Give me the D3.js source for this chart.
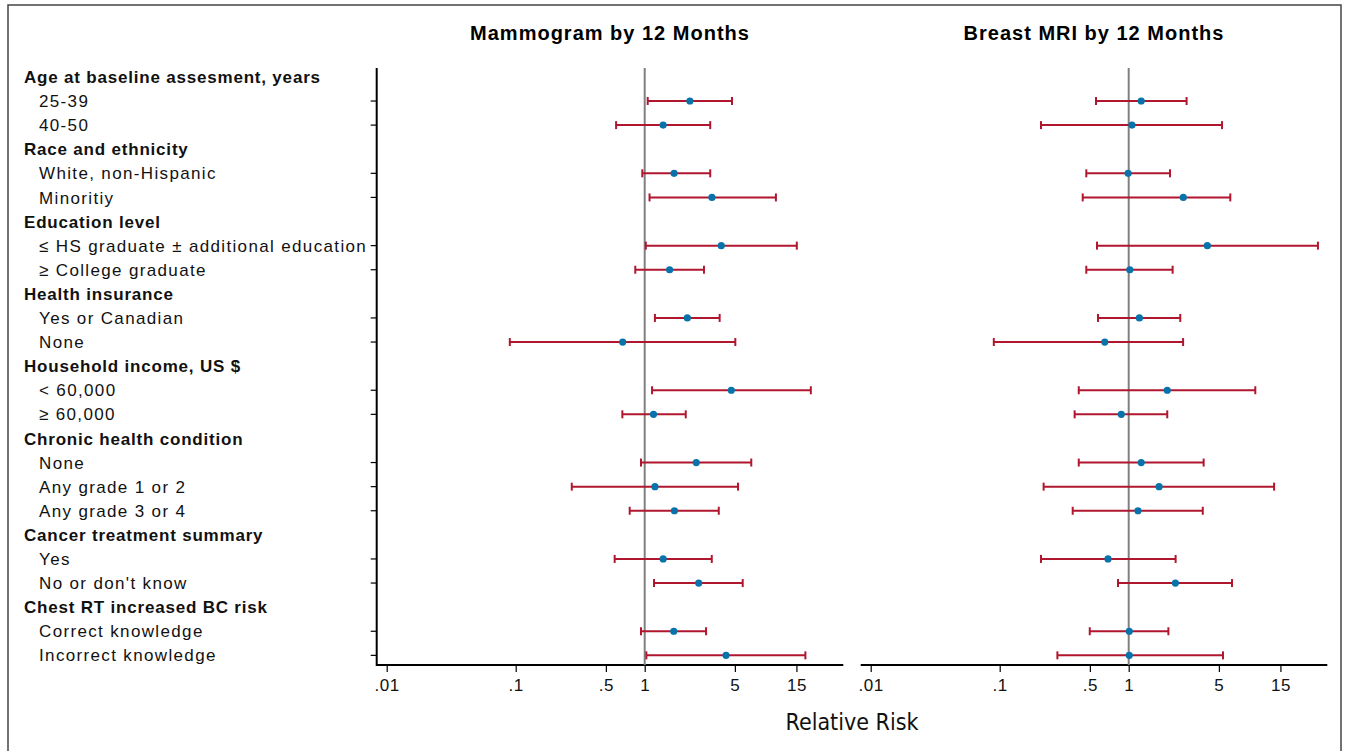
<!DOCTYPE html>
<html>
<head>
<meta charset="utf-8">
<title>Relative Risk forest plot</title>
<script src="https://cdnjs.cloudflare.com/ajax/libs/d3/7.8.5/d3.min.js"></script>
<style>
  body { margin: 0; background: #fff; }
  svg { display: block; font-family: "Liberation Sans", Arial, sans-serif; }
</style>
</head>
<body>
<div id="chart"></div>
<script>
// group headers and the items under each
const groupNames = [
    "Age at baseline assesment, years",
    "Race and ethnicity",
    "Education level",
    "Health insurance",
    "Household income, US $",
    "Chronic health condition",
    "Cancer treatment summary",
    "Chest RT increased BC risk"
];
const itemNames = [
    ["25-39", "40-50"],
    ["White, non-Hispanic", "Minoritiy"],
    ["\u2264 HS graduate \u00b1 additional education", "\u2265 College graduate"],
    ["Yes or Canadian", "None"],
    ["< 60,000", "\u2265 60,000"],
    ["None", "Any grade 1 or 2", "Any grade 3 or 4"],
    ["Yes", "No or don't know"],
    ["Correct knowledge", "Incorrect knowledge"]
];

// relative risk estimates with lower / upper CI, one per item (in order)
const mammoEst = [2.24, 1.39, 1.69, 3.32, 3.92, 1.56, 2.14, 0.675, 4.69, 1.17, 2.51, 1.20, 1.70, 1.39, 2.62, 1.68, 4.27];
const mammoLo  = [1.055, 0.60, 0.958, 1.09, 1.02, 0.845, 1.20, 0.090, 1.14, 0.671, 0.936, 0.272, 0.765, 0.585, 1.18, 0.936, 1.03];
const mammoHi  = [4.75, 3.22, 3.22, 10.4, 15.1, 2.88, 3.81, 5.04, 19.4, 2.08, 6.70, 5.29, 3.75, 3.31, 5.75, 2.99, 17.6];

const mriEst = [1.25, 1.06, 0.99, 2.65, 4.07, 1.02, 1.21, 0.652, 1.99, 0.876, 1.25, 1.72, 1.18, 0.691, 2.30, 1.01, 1.01];
const mriLo  = [0.558, 0.209, 0.469, 0.440, 0.568, 0.469, 0.578, 0.090, 0.410, 0.381, 0.410, 0.219, 0.368, 0.209, 0.826, 0.499, 0.28];
const mriHi  = [2.81, 5.29, 2.09, 6.13, 29.3, 2.19, 2.51, 2.64, 9.58, 1.99, 3.81, 13.4, 3.75, 2.31, 6.32, 2.03, 5.38];

const panelTitles = ["Mammogram by 12 Months", "Breast MRI by 12 Months"];
const tickValues = [0.01, 0.1, 0.5, 1, 5, 15];
const tickLabels = [".01", ".1", ".5", "1", "5", "15"];

// build the row list: header rows then item rows
const rows = [];
let itemIdx = 0;
groupNames.forEach((g, gi) => {
    rows.push({ label: g, header: true });
    itemNames[gi].forEach(name => {
        rows.push({ label: name, header: false, i: itemIdx++ });
    });
});

const width = 1349, height = 751;
const svg = d3.select("#chart").append("svg")
    .attr("width", width)
    .attr("height", height);

// outer frame
svg.append("rect")
    .attr("x", 8).attr("y", 5)
    .attr("width", 1333).attr("height", 760)
    .attr("fill", "none")
    .attr("stroke", "#444")
    .attr("stroke-width", 1.5);

const plotTop = 68, plotBottom = 665;
const panelWidth = 466.6;
const panelLeft = [376.7, 860.7];

const y = d3.scaleLinear()
    .domain([-0.37, rows.length - 0.6])
    .range([plotTop, plotBottom]);

const x = d3.scaleLog()
    .domain([0.008365, 34.63])
    .range([0, panelWidth]);

// row labels on the left
svg.append("g").selectAll("text")
    .data(rows)
    .enter()
    .append("text")
    .attr("x", d => d.header ? 24 : 39)
    .attr("y", (d, i) => y(i))
    .attr("dy", "0.36em")
    .style("font-size", "17px")
    .style("font-weight", d => d.header ? "bold" : "normal")
    .style("letter-spacing", d => d.header ? "0.8px" : "1.35px")
    .style("fill", "#111")
    .text(d => d.label);

const series = [
    { est: mammoEst, lo: mammoLo, hi: mammoHi },
    { est: mriEst, lo: mriLo, hi: mriHi }
];

const itemRows = rows.map((r, i) => ({ ...r, row: i })).filter(r => !r.header);

series.forEach((s, p) => {
    const g = svg.append("g")
        .attr("transform", `translate(${panelLeft[p]},0)`);

    // title
    g.append("text")
        .attr("x", panelWidth / 2)
        .attr("y", 33)
        .attr("dy", "0.36em")
        .attr("text-anchor", "middle")
        .style("font-size", "20px")
        .style("font-weight", "bold")
        .style("letter-spacing", "1px")
        .text(panelTitles[p]);

    // x axis
    const xAxis = g.append("g")
        .attr("transform", `translate(0,${plotBottom})`)
        .call(d3.axisBottom(x)
            .tickValues(tickValues)
            .tickFormat((d, i) => tickLabels[i])
            .tickSize(7)
            .tickPadding(7));
    xAxis.select(".domain")
        .attr("d", `M0,0H${panelWidth}`)
        .attr("stroke", "#000")
        .attr("stroke-width", 2);
    xAxis.selectAll(".tick line").attr("stroke", "#000").attr("stroke-width", 1.2);
    xAxis.selectAll(".tick text")
        .style("font-size", "17px")
        .style("letter-spacing", "0.6px")
        .style("font-family", "\"Liberation Sans\", Arial, sans-serif")
        .attr("fill", "#111");

    // y axis only on first panel
    if (p === 0) {
        g.append("line")
            .attr("x1", 0).attr("x2", 0)
            .attr("y1", plotTop).attr("y2", plotBottom + 1)
            .attr("stroke", "#000")
            .attr("stroke-width", 2);
        g.selectAll("line.ytick")
            .data(itemRows)
            .enter()
            .append("line")
            .attr("class", "ytick")
            .attr("x1", -6).attr("x2", 0)
            .attr("y1", d => y(d.row)).attr("y2", d => y(d.row))
            .attr("stroke", "#000")
            .attr("stroke-width", 1.2);
    }

    // reference line at RR = 1
    g.append("line")
        .attr("x1", x(1)).attr("x2", x(1))
        .attr("y1", plotTop).attr("y2", plotBottom)
        .attr("stroke", "#808080")
        .attr("stroke-width", 2);

    const bars = g.selectAll("g.ci")
        .data(itemRows)
        .enter()
        .append("g")
        .attr("class", "ci")
        .attr("transform", d => `translate(0,${y(d.row)})`);

    bars.append("line")
        .attr("x1", d => x(s.lo[d.i]))
        .attr("x2", d => x(s.hi[d.i]))
        .attr("stroke", "#b0172f")
        .attr("stroke-width", 2);

    [s.lo, s.hi].forEach(arr => {
        bars.append("line")
            .attr("x1", d => x(arr[d.i]))
            .attr("x2", d => x(arr[d.i]))
            .attr("y1", -4).attr("y2", 4)
            .attr("stroke", "#b0172f")
            .attr("stroke-width", 2);
    });

    bars.append("circle")
        .attr("cx", d => x(s.est[d.i]))
        .attr("r", 3.6)
        .attr("fill", "#0873aa");
});

// shared x-axis title
svg.append("text")
    .attr("x", 852)
    .attr("y", 722)
    .attr("dy", "0.36em")
    .attr("text-anchor", "middle")
    .style("font-family", "\"Liberation Sans Narrow\", \"DejaVu Sans Condensed\", Arial, sans-serif")
    .style("font-size", "23px")
    .style("fill", "#111")
    .text("Relative Risk");
</script>
</body>
</html>
